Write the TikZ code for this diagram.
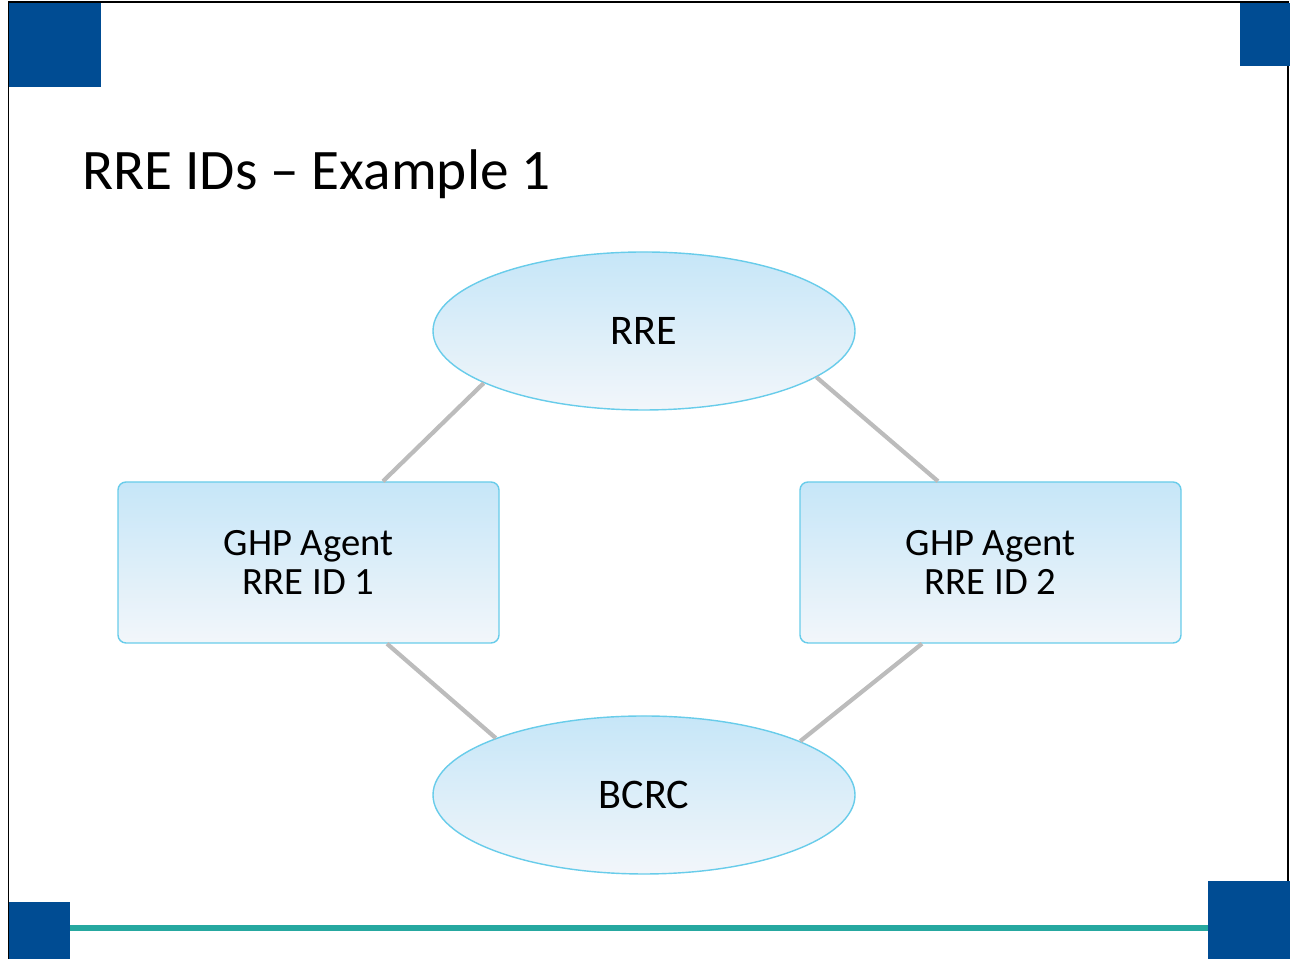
\documentclass[tikz,border=0pt]{standalone}
\usepackage{fontspec}
\setmainfont{Carlito}
\usepackage{xcolor}
\usepackage{tikz}
\usetikzlibrary{shapes,calc}
\usetikzlibrary{positioning}
\definecolor{cornerblue}{RGB}{0,76,147}
\definecolor{rulegreen}{RGB}{38,168,160}
\definecolor{nodetop}{RGB}{198,230,248}
\definecolor{nodebottom}{RGB}{242,246,250}
\definecolor{nodeline}{RGB}{104,204,234}
\definecolor{linkgray}{RGB}{188,188,188}

\begin{document}
\begin{tikzpicture} [
                oval/.style = {ellipse, draw=nodeline, line width=0.8pt, top color=nodetop, bottom color=nodebottom, minimum width=8.44cm, minimum height=3.16cm, inner sep=0pt, font=\fontsize{24}{26}\selectfont},
                agent/.style = {rectangle, rounded corners=0.16cm, draw=nodeline, line width=0.8pt, top color=nodetop, bottom color=nodebottom, minimum width=7.62cm, minimum height=3.22cm, align=center, font=\fontsize{22}{22}\selectfont},
                link/.style = {draw=linkgray, line width=2.4pt}
            ]
            \useasboundingbox (0,0) rectangle (25.8,19.18);
            \draw [black, line width=0.8pt] (0.17,-0.2) rectangle (25.76,19.14);
            \fill [cornerblue] (0.18,17.44) rectangle (2.02,19.12);
            \fill [cornerblue] (24.8,17.86) rectangle (25.8,19.12);
            \fill [cornerblue] (0.18,0) rectangle (1.4,1.14);
            \fill [cornerblue] (24.16,0) rectangle (25.8,1.56);
            \draw [rulegreen, line width=0.12cm] (1.4,0.62) -- (24.16,0.62);
            \node (title) at (1.64,15.38) [anchor=base west, inner sep=0pt, font=\fontsize{32.6}{38}\selectfont] {RRE IDs – Example 1};
            \node (rre) at (12.88,12.56) [oval] {RRE};
            \node (ghpa) at (6.17,7.93) [agent] {GHP Agent\\RRE ID 1};
            \node (ghpb) at (19.81,7.93) [agent] {GHP Agent\\RRE ID 2};
            \node (bcrc) at (12.88,3.28) [oval] {BCRC};
            \draw [link] (rre.198) -- ([xshift=1.49cm] ghpa.north);
            \draw [link] (rre.-15) -- ([xshift=-1.05cm] ghpb.north);
            \draw [link] ([xshift=1.57cm] ghpa.south) -- (bcrc.159);
            \draw [link] ([xshift=-1.37cm] ghpb.south) -- (bcrc.19);
        \end{tikzpicture}
\end{document}
